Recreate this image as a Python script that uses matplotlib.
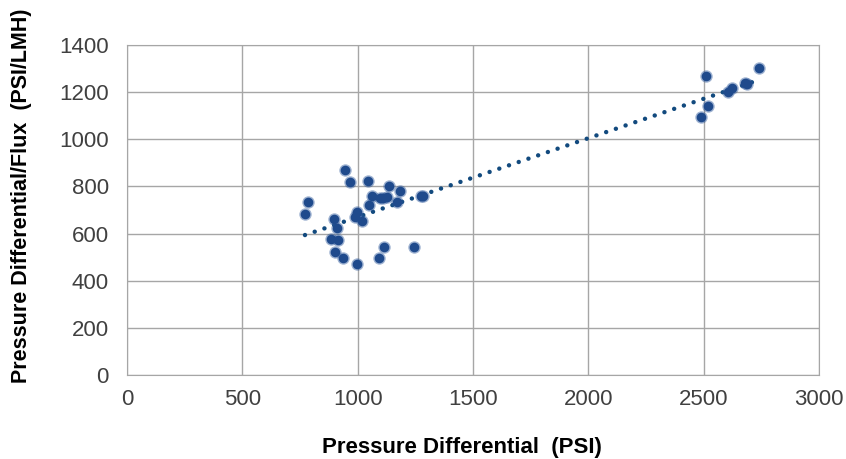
import matplotlib

matplotlib.use("Agg")

import matplotlib.pyplot as plt
import numpy as np

plt.rcParams["font.family"] = ["Liberation Sans", "DejaVu Sans"]

# pressure differential (PSI)
pressure = [945, 967, 1046, 786, 772, 1137, 1183, 1061, 1097, 1111, 1126,
            1169, 1050, 998, 988, 1020, 899, 909, 883, 916, 902, 935, 996,
            1094, 1114, 1244, 1277, 1284,
            2510, 2741, 2678, 2688, 2607, 2625, 2517, 2487]
# pressure differential / flux (PSI/LMH)
ratio = [868, 820, 824, 733, 683, 802, 782, 761, 750, 750, 754,
         733, 721, 693, 672, 655, 660, 622, 577, 573, 523, 495, 471,
         495, 542, 544, 759, 761,
         1268, 1301, 1240, 1236, 1202, 1216, 1141, 1096]

x = np.array(pressure, dtype=float)
y = np.array(ratio, dtype=float)
slope, intercept = np.polyfit(x, y, 1)

fig = plt.figure(figsize=(8.46, 4.59), dpi=100)
ax = fig.add_axes([0.150, 0.183, 0.818, 0.719])

ax.grid(True, color="#A6A6A6", linewidth=1.0)
ax.set_axisbelow(True)

xs = np.linspace(x.min(), x.max(), 100)
ax.plot(xs, slope * xs + intercept, linestyle=(0, (0.01, 2.3)), color="#124A7E",
        linewidth=3.2, dash_capstyle="round", zorder=2)

# soft halo then solid marker
ax.scatter(x, y, s=80, color="#2A569A", alpha=0.45, linewidths=0, zorder=3)
ax.scatter(x, y, s=48, color="#1F4A8C", linewidths=0, zorder=4)

ax.set_xlim(0, 3000)
ax.set_ylim(0, 1400)
ax.set_xticks(range(0, 3001, 500))
ax.set_yticks(range(0, 1401, 200))
ax.tick_params(axis="both", length=0, labelsize=16, colors="#404040")
ax.tick_params(axis="y", pad=13)
ax.tick_params(axis="x", pad=10)
for s in ax.spines.values():
    s.set_color("#A6A6A6")

ax.set_xlabel("Pressure Differential  (PSI)", fontsize=16, fontweight="bold")
ax.set_ylabel("Pressure Differential/Flux  (PSI/LMH)", fontsize=15.5, fontweight="bold")
ax.xaxis.label.set_va("center")
ax.yaxis.label.set_va("center")
ax.xaxis.set_label_coords(0.484, -0.221)
ax.yaxis.set_label_coords(-0.152, 0.542)

fig.savefig("out.png", dpi=100, facecolor="white")
